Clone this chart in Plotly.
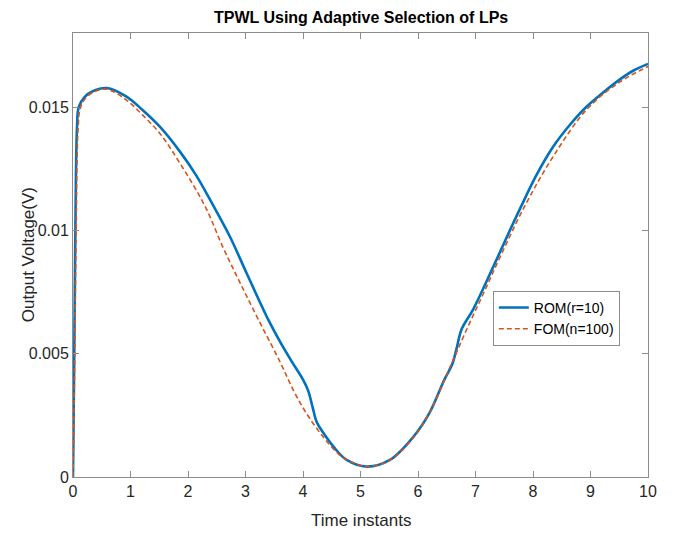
import plotly.graph_objects as go

# ROM (r=10)
t_rom = [0, 0.02, 0.035, 0.05, 0.07, 0.1, 0.2, 0.35, 0.59, 0.93, 1.2, 1.51, 1.86, 2.15,
         2.44, 2.73, 3.02, 3.4, 3.6, 3.8, 4.0, 4.09, 4.17, 4.24, 4.35, 4.53, 4.76, 5.11,
         5.51, 5.92, 6.2, 6.45, 6.6, 6.67, 6.76, 6.96, 7.31, 7.6, 7.8, 8.05, 8.35, 8.65,
         8.93, 9.2, 9.5, 9.75, 10]
v_rom = [0, 0.0045, 0.0085, 0.0120, 0.0142, 0.0150, 0.0154, 0.01565, 0.01577, 0.01542,
         0.0149, 0.0142, 0.01319, 0.0122, 0.0110, 0.00974, 0.00826, 0.00636, 0.00549,
         0.0047, 0.00395, 0.00350, 0.00280, 0.00222, 0.0018, 0.00123, 0.00069, 0.00042,
         0.00069, 0.00163, 0.0026, 0.0039, 0.0046, 0.0052, 0.0060, 0.00680, 0.00853,
         0.01001, 0.0110, 0.0122, 0.01339, 0.0143, 0.01501, 0.01555, 0.0161, 0.01648, 0.01675]

# FOM (n=100)
t_fom = [0, 0.02, 0.04, 0.06, 0.07, 0.09, 0.12, 0.2, 0.35, 0.59, 0.93, 1.2, 1.51, 1.86,
         2.3, 2.61, 2.9, 3.22, 3.6, 3.83, 4.06, 4.35, 4.64, 4.9, 5.11, 5.51, 5.92, 6.2,
         6.56, 6.85, 7.14, 7.43, 7.86, 8.35, 8.93, 9.5, 10]
v_fom = [0, 0.003, 0.007, 0.011, 0.0128, 0.0142, 0.01489, 0.0153, 0.0156, 0.01572,
         0.01528, 0.0147, 0.01393, 0.01272, 0.01096, 0.0093, 0.0079, 0.0064, 0.00467,
         0.00353, 0.00258, 0.00163, 0.00089, 0.00055, 0.00042, 0.00068, 0.0016, 0.0026,
         0.00447, 0.00600, 0.00745, 0.00893, 0.0110, 0.01299, 0.01489, 0.01600, 0.01664]

x_ticks = list(range(0, 11))
y_ticks = [0, 0.005, 0.01, 0.015]
y_labels = ["0", "0.005", "0.01", "0.015"]

narrow = "Liberation Sans Narrow, Arial Narrow, Liberation Sans, Arial"

fig = go.Figure()
fig.add_trace(go.Scatter(x=t_rom, y=v_rom, mode="lines", name="ROM(r=10)",
                         line=dict(color="#0072BD", width=2.6, shape="spline", smoothing=1.0)))
fig.add_trace(go.Scatter(x=t_fom, y=v_fom, mode="lines", name="FOM(n=100)",
                         line=dict(color="#D95319", width=1.6, dash="5px,3px", shape="spline", smoothing=1.0)))

axis_common = dict(showgrid=False, zeroline=False, showline=True, linecolor="#8c8c8c",
                   linewidth=1, mirror="ticks", ticks="inside", ticklen=6, tickcolor="#8c8c8c",
                   automargin=False,
                   tickfont=dict(family=narrow, size=16, color="#262626"))

fig.update_xaxes(range=[0, 10], tickvals=x_ticks, **axis_common)
fig.update_yaxes(range=[0, 0.018], tickvals=y_ticks, ticktext=y_labels, **axis_common)

# axis titles placed as annotations
fig.add_annotation(text="Time instants", xref="paper", yref="paper", x=0.501, y=-0.097,
                   xanchor="center", yanchor="middle", showarrow=False,
                   font=dict(family=narrow, size=17, color="#262626"))
fig.add_annotation(text="Output Voltage(V)", xref="paper", yref="paper", x=-0.078, y=0.5,
                   xanchor="center", yanchor="middle", textangle=-90, showarrow=False,
                   font=dict(family="Liberation Sans, Arial", size=17, color="#262626"))

fig.update_layout(
    width=683, height=544,
    margin=dict(l=65, r=43, t=25, b=75),
    plot_bgcolor="white", paper_bgcolor="white",
    title=dict(text="<b>TPWL Using Adaptive Selection of LPs</b>", x=0.517, xanchor="center",
               y=0.982, yanchor="middle",
               font=dict(family=narrow, size=16, color="black")),
    legend=dict(x=0.951, y=0.419, xanchor="right", yanchor="top",
                bordercolor="#8c8c8c", borderwidth=1, bgcolor="white",
                font=dict(family=narrow, size=14, color="black"),
                tracegroupgap=0, itemwidth=30),
    showlegend=True,
)

fig.write_html("out.html")
